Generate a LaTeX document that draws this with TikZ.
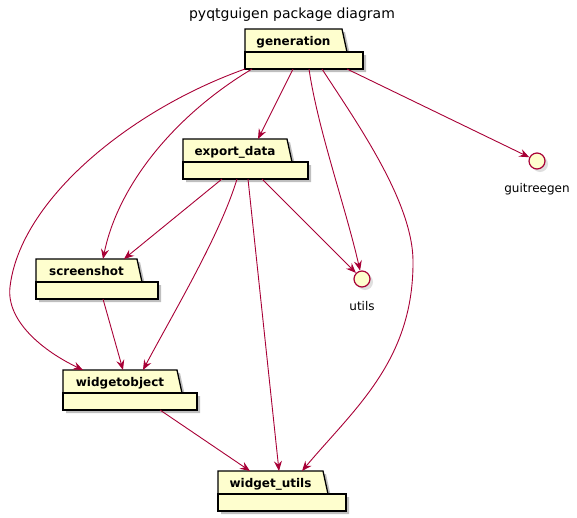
\documentclass[tikz,border=0pt]{standalone}
\usepackage{fontspec}
\setmainfont{DejaVu Sans}
\usetikzlibrary{arrows.meta, positioning, shadows, backgrounds}
\definecolor{umlred}{HTML}{A80036}
\definecolor{umlfill}{HTML}{FEFECE}

% package: tab with the name, empty body below it
\newcommand{\umlpackage}[5]{%
  \node[pkgtab, minimum width=#3, anchor=north west] (#1) at (#2) {#5};
  \node[pkgbody, minimum width=#4, anchor=north west] (#1-body) at (#1.south west) {};
  \begin{pgfonlayer}{background}
    \fill[pkgshadow] ([shift={(3,3)}]#1.south west) -- ([shift={(3,3)}]#1.north west)
      -- ([shift={(3,3)}]#1.north east) -- ([shift={(8,3)}]#1.south east)
      -- ([shift={(3,3)}]#1-body.north east) -- ([shift={(3,3)}]#1-body.south east)
      -- ([shift={(3,3)}]#1-body.south west) -- cycle;
    \filldraw[pkgline] (#1.south west) -- (#1.north west) -- (#1.north east)
      -- ([xshift=5]#1.south east) -- cycle;
    \filldraw[pkgline] (#1-body.north west) rectangle (#1-body.south east);
  \end{pgfonlayer}
}

\begin{document}
\begin{tikzpicture}[x=1pt, y=-1pt,
    pkgline/.style={draw=black, fill=umlfill, line width=1.3pt, line join=miter},
    pkgshadow/.style={fill=black, opacity=0.25},
    pkgtab/.style={inner sep=0pt, outer sep=0pt, minimum height=23,
                   text height=11pt, text depth=1pt,
                   font=\bfseries\fontsize{12}{14}\selectfont},
    pkgbody/.style={inner sep=0pt, outer sep=0pt, minimum height=17},
    iface/.style={circle, draw=umlred, fill=umlfill, line width=1.2pt,
                  minimum size=16, inner sep=0pt,
                  drop shadow={opacity=0.25, shadow xshift=3pt, shadow yshift=-3pt}},
    ifacename/.style={inner sep=0pt, text height=9pt, text depth=3pt,
                      font=\fontsize{12}{14}\selectfont},
    dep/.style={->, draw=umlred, line width=0.9pt},
    >={Stealth[length=10pt, width=8pt, inset=3.5pt]}]
  \useasboundingbox (0,0) rectangle (577,517);

  \node[anchor=base, font=\fontsize{14}{16}\selectfont] (title) at (292,18)
    {pyqtguigen package diagram};

  \foreach \name/\px/\py/\tw/\bw/\txt in {
      generation/245/29/97/118/generation,
      exportdata/183/139/104/125/export\_data,
      screenshot/36/259/101/122/screenshot,
      widgetobject/63/370/114/134/widgetobject,
      widgetutils/218/471/105/128/widget\_utils} {
    \umlpackage{\name}{\px,\py}{\tw}{\bw}{\txt}
  }

  \node[iface] (guitreegen) at (537,161) {};
  \node[ifacename, below=14pt of guitreegen] (guitreegen-name) {guitreegen};
  \node[iface] (utils) at (362,279) {};
  \node[ifacename, below=14pt of utils] (utils-name) {utils};

  % dependencies of generation
  \draw[dep] ([xshift=48]generation-body.south west) -- ([xshift=75]exportdata.north west);
  \draw[dep] ([xshift=7]generation-body.south west)
    .. controls (175,115) and (118,185) .. ([xshift=67]screenshot.north west);
  \draw[dep] (generation-body.south west)
    .. controls (130,110) and (20,200) .. (10,287)
    .. controls (6,322) and (45,352) .. ([xshift=20]widgetobject.north west);
  \draw[dep] ([xshift=64]generation-body.south west)
    .. controls (318,130) and (345,205) .. (utils);
  \draw[dep] ([xshift=77]generation-body.south west)
    .. controls (355,120) and (412,200) .. (413,260)
    .. controls (414,360) and (355,408) .. ([xshift=84]widgetutils.north west);
  \draw[dep] ([xshift=102]generation-body.south west) -- (guitreegen);

  % dependencies of export_data
  \draw[dep] ([xshift=39]exportdata-body.south west) -- ([xshift=88]screenshot.north west);
  \draw[dep] ([xshift=54]exportdata-body.south west)
    .. controls (220,235) and (175,310) .. ([xshift=80]widgetobject.north west);
  \draw[dep] ([xshift=65]exportdata-body.south west) -- ([xshift=61]widgetutils.north west);
  \draw[dep] ([xshift=79]exportdata-body.south west) -- (utils);

  \draw[dep] ([xshift=67]screenshot-body.south west) -- ([xshift=60]widgetobject.north west);
  \draw[dep] ([xshift=97]widgetobject-body.south west) -- ([xshift=32]widgetutils.north west);
\end{tikzpicture}
\end{document}
